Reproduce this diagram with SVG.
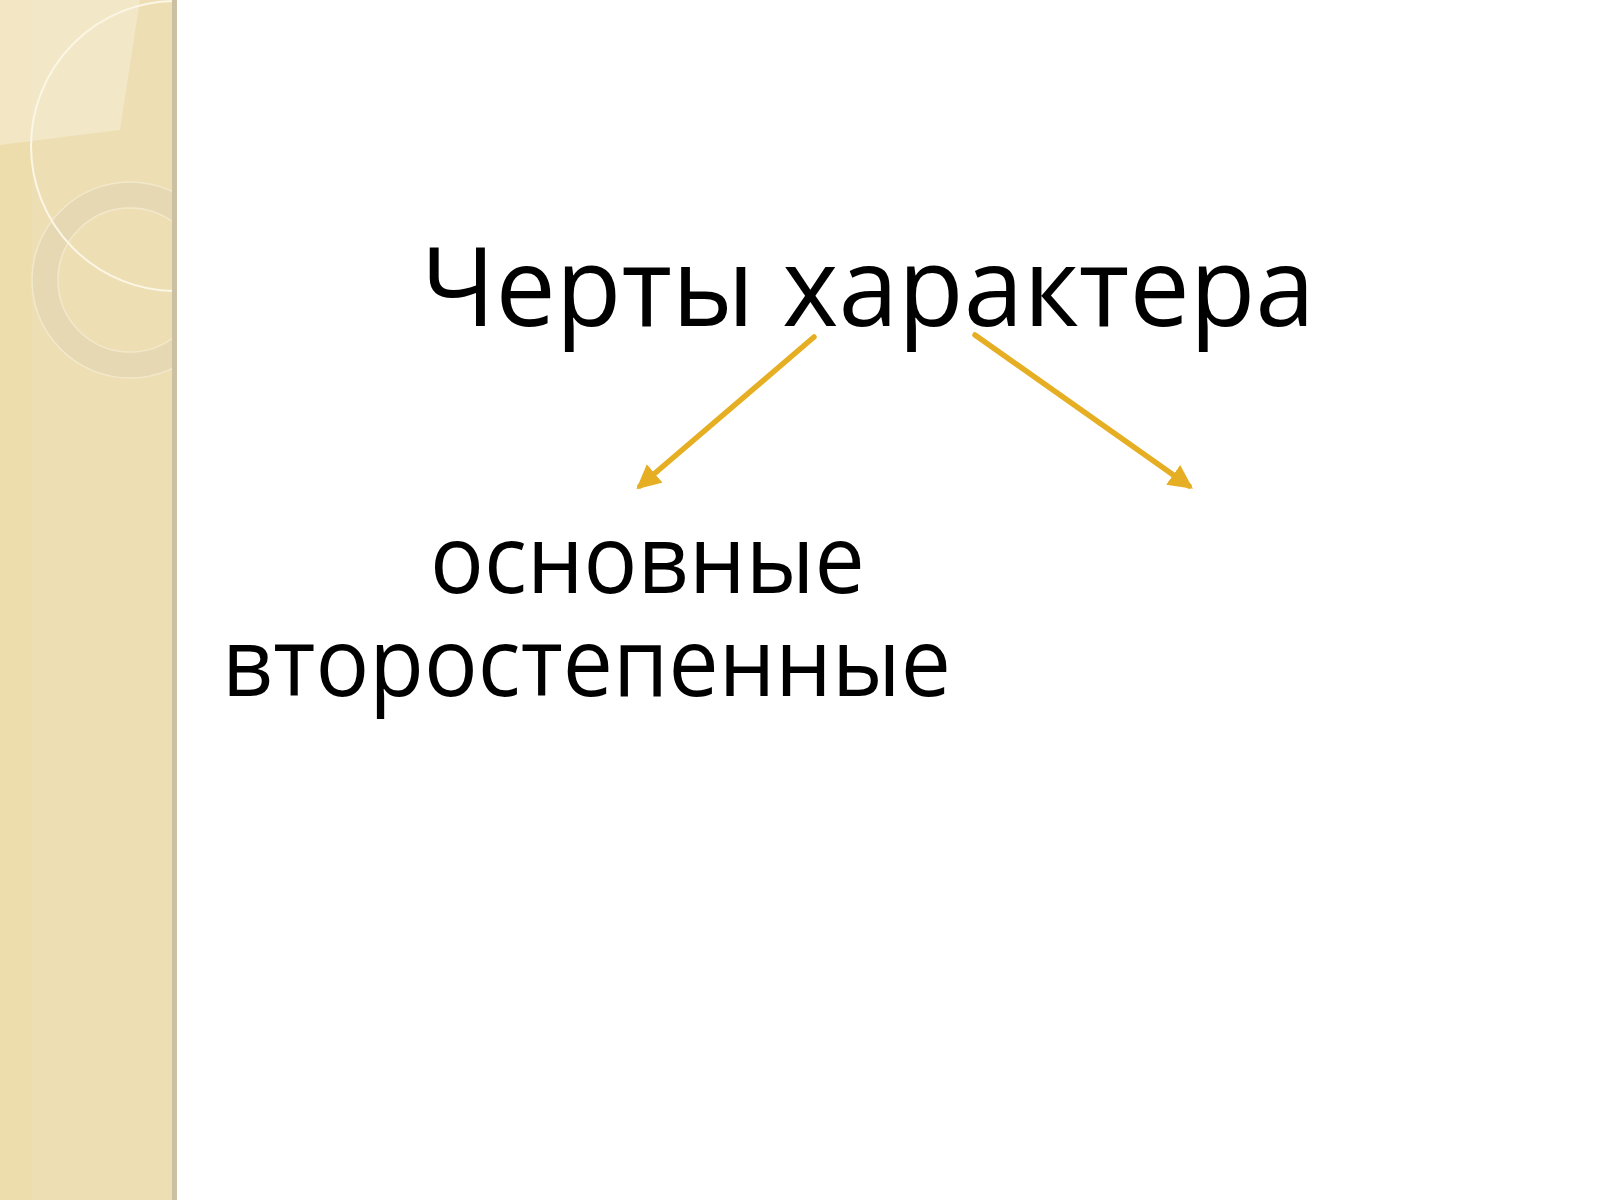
<svg xmlns="http://www.w3.org/2000/svg" width="1600" height="1200" viewBox="0 0 1600 1200">
<style>
.t{font-family:"Open Sans","Noto Sans","DejaVu Sans",sans-serif;fill:#000}
.h{font-size:110px}
.b{font-size:96px}
.arr{stroke:#E6AE22;stroke-width:5.5;fill:none;stroke-linecap:round}
</style>
<defs>
<marker id="ah" viewBox="0 0 10 10" refX="8" refY="5" markerWidth="4.4" markerHeight="4.4" orient="auto" markerUnits="strokeWidth">
<path d="M0,0 L10,5 L0,10 z" fill="#E6AE22"/>
</marker>
<clipPath id="pc"><rect x="0" y="0" width="173" height="1200"/></clipPath>
</defs>
<rect width="1600" height="1200" fill="#FFFFFF"/>
<g id="panel">
<rect x="0" y="0" width="173" height="1200" fill="#EEDEB3"/>
<rect x="0" y="0" width="32" height="1200" fill="#EDDDAC"/>
<g clip-path="url(#pc)">
<path d="M0,0 L140,0 L120,130 L0,145 z" fill="#F3E8CB" opacity="0.8"/>
<circle cx="130" cy="280" r="85" fill="none" stroke="#E5D8B2" stroke-width="26"/>
<circle cx="130" cy="280" r="98" fill="none" stroke="#F2E8CC" stroke-width="1.5"/>
<circle cx="130" cy="280" r="72" fill="none" stroke="#F2E8CC" stroke-width="1.5"/>
<circle cx="176" cy="146" r="145" fill="none" stroke="#FBF6E6" stroke-width="2"/>
</g>
<rect x="172" y="0" width="5" height="1200" fill="#CBC1A2"/>
</g>
<g id="title"><text class="t h" transform="translate(421,326) scale(0.976,1)">Черты характера</text></g>
<g id="n1"><text class="t b" transform="translate(430,593) scale(0.934,1)">основные</text></g>
<g id="n2"><text class="t b" transform="translate(222,696) scale(0.932,1)">второстепенные</text></g>
<g id="connectors">
<line class="arr" x1="814" y1="337" x2="640" y2="486" marker-end="url(#ah)"/>
<line class="arr" x1="975" y1="335" x2="1189" y2="486" marker-end="url(#ah)"/>
</g>
</svg>
